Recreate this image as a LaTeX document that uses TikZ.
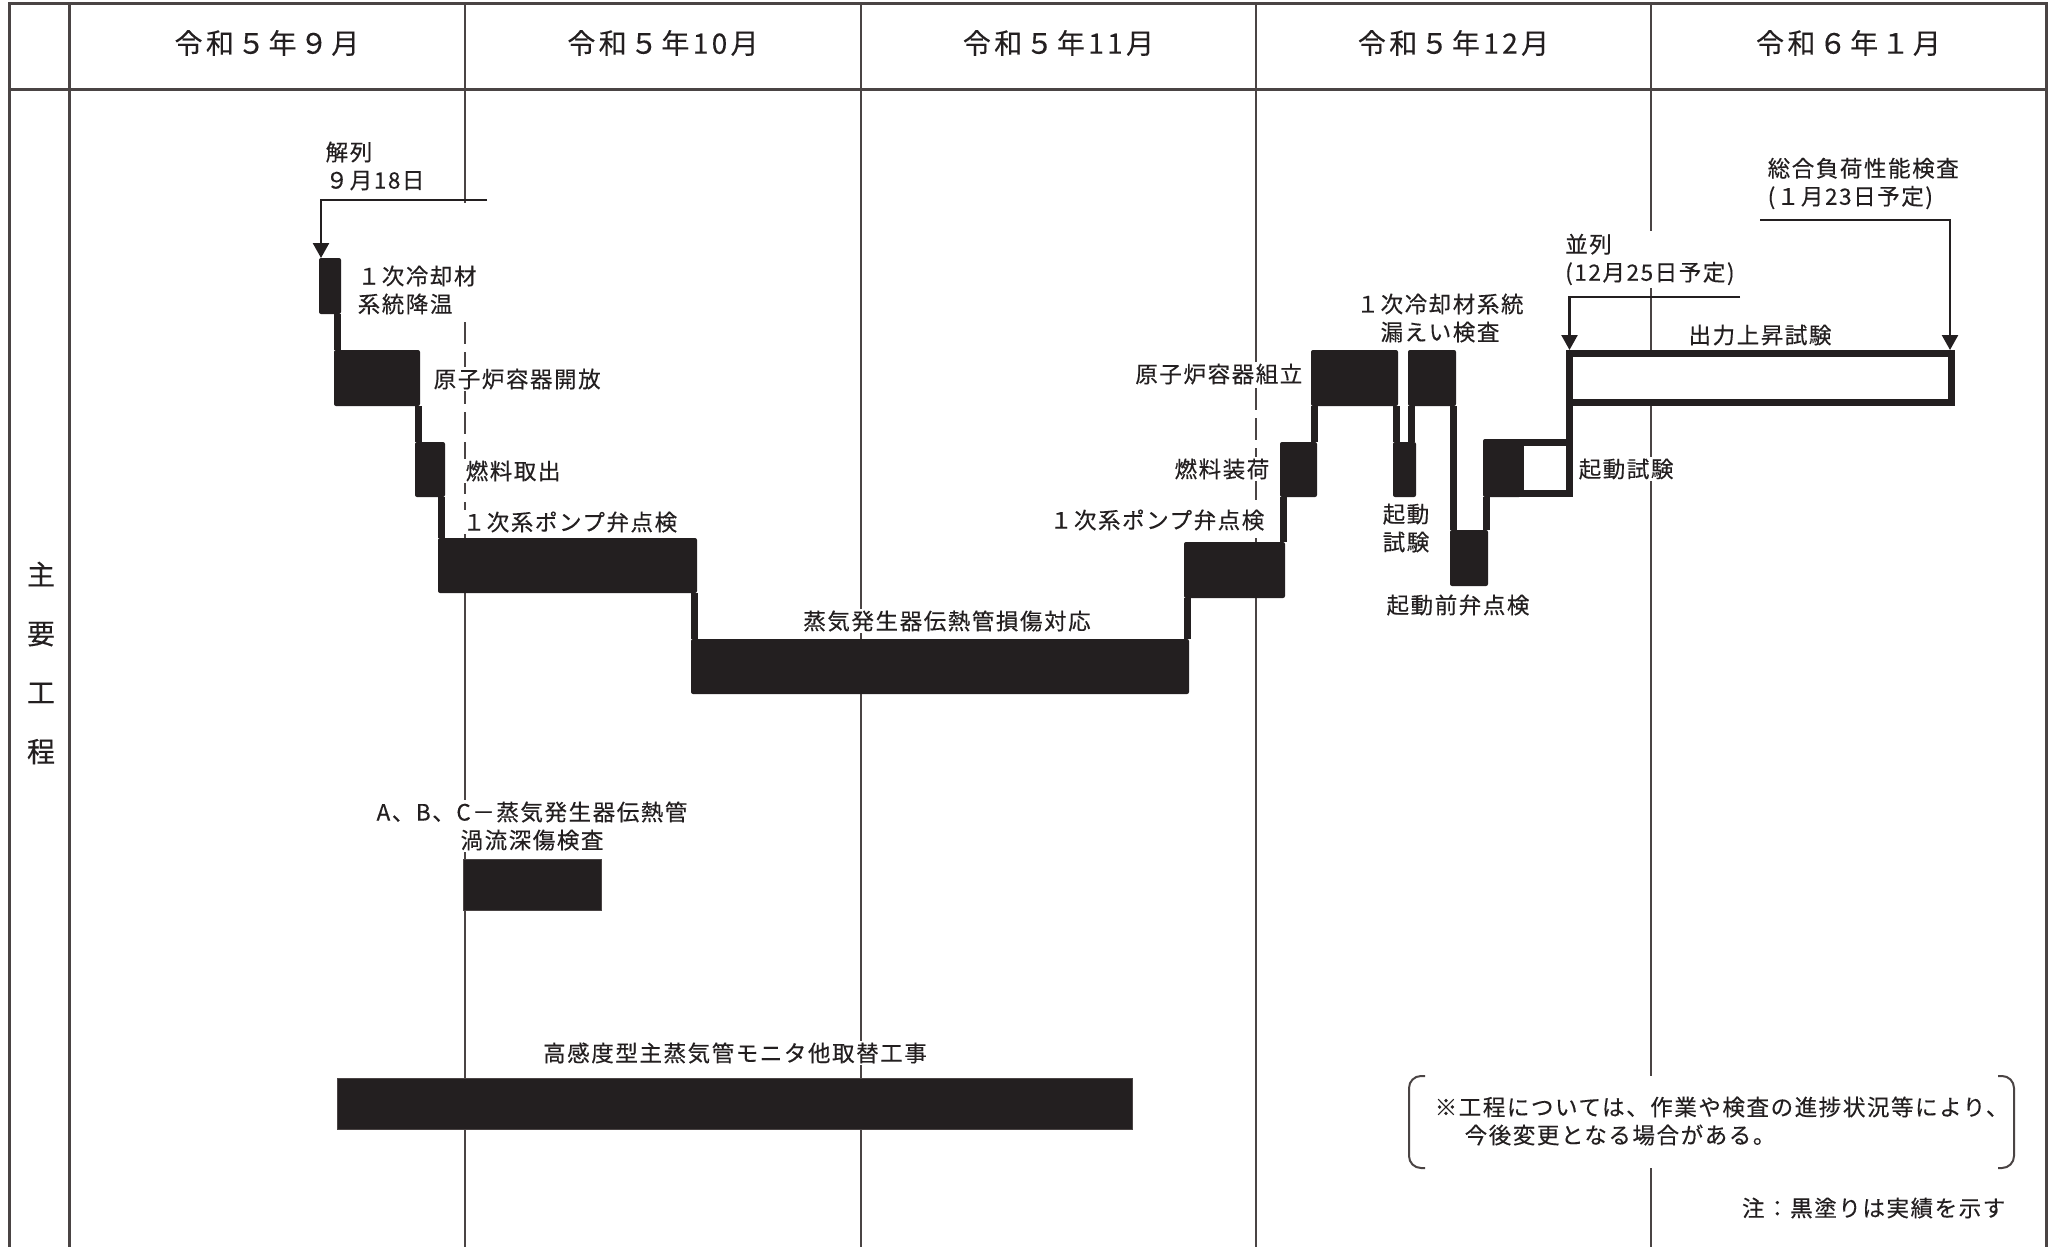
\documentclass[tikz,border=0pt]{standalone}
\usepackage{fontspec}
\setmainfont{Noto Sans CJK JP}[FakeBold=0.3]
\newfontfamily\bodyfont[LetterSpace=7,FakeBold=0.3]{Noto Sans CJK JP}
\newfontfamily\headfont[LetterSpace=12,FakeBold=0.3]{Noto Sans CJK JP}
\usetikzlibrary{arrows.meta}
\definecolor{gridc}{RGB}{74,68,68}
\definecolor{barc}{RGB}{35,31,32}
\begin{document}
\begin{tikzpicture}[x=1pt,y=-1pt,
  bar/.style={fill=barc, draw=none, rounded corners=2pt, inner sep=0pt, outer sep=0pt},
  flatbar/.style={fill=barc, draw=gridc, line width=1pt, inner sep=0pt, outer sep=0pt},
  openbar/.style={fill=white, draw=barc, line width=7pt, inner sep=0pt, outer sep=0pt},
  conn/.style={draw=barc, line width=6.5pt},
  gridline/.style={draw=gridc, line width=2.5pt},
  frameline/.style={draw=gridc, line width=3pt},
  lbl/.style={font=\bodyfont\fontsize{22.5pt}{28pt}\selectfont, inner sep=1.5pt, text=barc},
  wlbl/.style={lbl, fill=white},
  arr/.style={draw=barc, line width=2.5pt, -{Triangle[length=15pt,width=16pt]}},
  hdr/.style={font=\headfont\fontsize{28pt}{32pt}\selectfont, text=barc}
]
\useasboundingbox (0,0) rectangle (2058,1247);
\fill[white] (0,0) rectangle (2058,1247);

% frame and grid
\draw[frameline] (9,1247) -- (9,4) -- (2046,4) -- (2046,1247);
\draw[frameline] (9,89) -- (2046,89);
\draw[frameline] (69.5,4) -- (69.5,1247);
\draw[gridline] (465,4) -- (465,203);
\draw[gridline, dash pattern=on 22pt off 8pt] (465,322) -- (465,538);
\draw[gridline] (465,538) -- (465,1247);
\draw[gridline] (861,4) -- (861,1247);
\draw[gridline] (1256,4) -- (1256,358);
\draw[gridline, dash pattern=on 22pt off 8pt] (1256,358) -- (1256,542);
\draw[gridline] (1256,542) -- (1256,1247);
\draw[gridline] (1651,4) -- (1651,1247);

% header
\node[hdr] (h1) at (267,43) {令和５年９月};
\node[hdr] (h2) at (663,43) {令和５年10月};
\node[hdr] (h3) at (1058.5,43) {令和５年11月};
\node[hdr] (h4) at (1453.5,43) {令和５年12月};
\node[hdr] (h5) at (1848.5,43) {令和６年１月};
\node[font=\normalfont\fontsize{28pt}{59pt}\selectfont, text=barc, align=center] (side) at (41,663) {主\\要\\工\\程};

% labels
\node[lbl, anchor=west, align=left] (tkai) at (324,166) {解列\\９月18日};
\node[lbl, anchor=west, align=left] (t1) at (356,290) {１次冷却材\\系統降温};
\node[wlbl, anchor=west] (t2) at (432,379) {原子炉容器開放};
\node[wlbl, anchor=west] (t3) at (464,471) {燃料取出};
\node[wlbl, anchor=west] (t4) at (461,522) {１次系ポンプ弁点検};
\node[wlbl] (t5) at (947,621) {蒸気発生器伝熱管損傷対応};
\node[wlbl, anchor=east] (t6) at (1266,520) {１次系ポンプ弁点検};
\node[wlbl, anchor=east] (t7) at (1271,469) {燃料装荷};
\node[wlbl, anchor=east] (t8) at (1304,374) {原子炉容器組立};
\node[lbl, align=center] (t9) at (1440,318) {１次冷却材系統\\漏えい検査};
\node[lbl, align=center] (t10) at (1406,528) {起動\\試験};
\node[lbl] (t11) at (1458,605) {起動前弁点検};
\node[wlbl, anchor=west] (t12) at (1577,469) {起動試験};
\node[wlbl, anchor=west, align=left, inner sep=3pt] (t13) at (1562,259.5) {並列\\(12月25日予定)};
\node[lbl] (t14) at (1760,335) {出力上昇試験};
\node[lbl, anchor=west, align=left] (t15) at (1766,183.5) {総合負荷性能検査\\(１月23日予定)};
\node[wlbl, align=center] (t16) at (532,826) {A、B、C－蒸気発生器伝熱管\\渦流深傷検査};
\node[wlbl] (t17) at (735,1053) {高感度型主蒸気管モニタ他取替工事};

% note
\node[fill=white, minimum width=605pt, minimum height=92pt, inner sep=0pt, outer sep=0pt] (notebox) at (1711.5,1122) {};
\draw[gridc, line width=2pt, rounded corners=12pt] ([xshift=16pt]notebox.north west) -- (notebox.north west) -- (notebox.south west) -- ([xshift=16pt]notebox.south west);
\draw[gridc, line width=2pt, rounded corners=12pt] ([xshift=-16pt]notebox.north east) -- (notebox.north east) -- (notebox.south east) -- ([xshift=-16pt]notebox.south east);
\node[lbl, anchor=west, align=left] (t18) at (1433,1121) {※工程については、作業や検査の進捗状況等により、\\\hspace*{30pt}今後変更となる場合がある。};
\node[lbl, anchor=east] (t19) at (2007,1208) {注：黒塗りは実績を示す};

% bars
\node[bar, minimum width=22pt, minimum height=56pt] (b1) at (330,286) {};
\node[bar, minimum width=86pt, minimum height=56pt] (b2) at (377,378) {};
\node[bar, minimum width=30pt, minimum height=55pt] (b3) at (430,469.5) {};
\node[bar, minimum width=259pt, minimum height=55pt] (b4) at (567.5,565.5) {};
\node[bar, minimum width=498pt, minimum height=55pt] (b5) at (940,666.5) {};
\node[bar, minimum width=101pt, minimum height=56pt] (b6) at (1234.5,570) {};
\node[bar, minimum width=37pt, minimum height=55pt] (b7) at (1298.5,469.5) {};
\node[bar, minimum width=87pt, minimum height=56pt] (b8) at (1354.5,378) {};
\node[bar, minimum width=23pt, minimum height=55pt] (b9) at (1404.5,469.5) {};
\node[bar, minimum width=48pt, minimum height=56pt] (b10) at (1432,378) {};
\node[bar, minimum width=38pt, minimum height=56pt] (b11) at (1469,558) {};
\node[bar, minimum width=38pt, minimum height=58pt] (b12) at (1502,468) {};
\node[openbar, minimum width=49pt, minimum height=51pt] (b12w) at (1545,468) {};
\node[openbar, minimum width=382pt, minimum height=49pt] (b13) at (1760.5,378) {};
\node[flatbar, minimum width=138pt, minimum height=51pt] (babc) at (532,884.5) {};
\node[flatbar, minimum width=795pt, minimum height=51pt] (bhk) at (734.5,1103.5) {};

% connectors
\draw[conn] ([xshift=3.25pt]b2.north west) -- ([xshift=3.25pt]b2.west |- b1.south);
\draw[conn] ([xshift=3.25pt]b3.north west) -- ([xshift=3.25pt]b3.west |- b2.south);
\draw[conn] ([xshift=3.25pt]b4.north west) -- ([xshift=3.25pt]b4.west |- b3.south);
\draw[conn] ([xshift=3.25pt]b5.north west) -- ([xshift=3.25pt]b5.west |- b4.south);
\draw[conn] ([xshift=3.25pt]b6.south west) -- ([xshift=3.25pt]b6.west |- b5.north);
\draw[conn] ([xshift=3.25pt]b7.south west) -- ([xshift=3.25pt]b7.west |- b6.north);
\draw[conn] ([xshift=3.25pt]b8.south west) -- ([xshift=3.25pt]b8.west |- b7.north);
\draw[conn] ([xshift=3.25pt]b9.north west) -- ([xshift=3.25pt]b9.west |- b8.south);
\draw[conn] ([xshift=3.25pt]b10.south west) -- ([xshift=3.25pt]b10.west |- b9.north);
\draw[conn] ([xshift=3.25pt]b11.north west) -- ([xshift=3.25pt]b11.west |- b10.south);
\draw[conn] ([xshift=3.25pt]b12.south west) -- ([xshift=3.25pt]b12.west |- b11.north);
\draw[draw=barc, line width=7pt] (b13.south west) -- (b13.south west |- b12w.north);

% arrows
\coordinate (k1) at (487,200);
\coordinate (k2) at (1740,297);
\coordinate (k3) at (1760,220);
\draw[arr] (k1) -| ([xshift=2pt]b1.north west);
\draw[arr] (k2) -| ([yshift=3.5pt]b13.north west);
\draw[arr] (k3) -| ([xshift=-1.5pt,yshift=3.5pt]b13.north east);
\end{tikzpicture}
\end{document}
